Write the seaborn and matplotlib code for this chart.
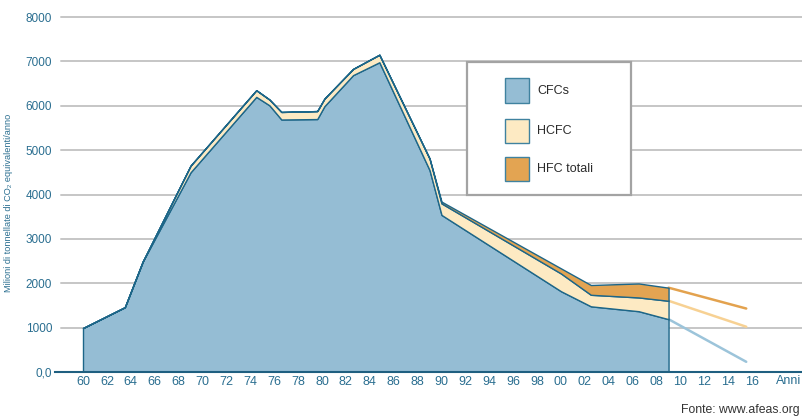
import matplotlib
matplotlib.use("Agg")
import matplotlib.pyplot as plt
from matplotlib import font_manager
from matplotlib.patches import Rectangle
import numpy as np
import pandas as pd
import seaborn as sns

# Emissioni storiche (milioni di t CO2 eq/anno), componenti impilate
years = [1960, 1963.5, 1965, 1969, 1974.5, 1975.6, 1976.6, 1979.6, 1980.2,
         1982.6, 1984.8, 1989, 1990, 2000, 2002.5, 2006.5, 2009]
cfc = [990, 1460, 2490, 4500, 6200, 6010, 5690, 5700, 5990,
       6690, 6980, 4550, 3540, 1820, 1480, 1370, 1190]
hcfc = [0, 0, 0, 150, 150, 130, 170, 180, 170,
        140, 170, 260, 260, 400, 260, 310, 415]
hfc = [0, 0, 0, 0, 0, 0, 0, 0, 0,
       0, 0, 0, 40, 115, 220, 315, 295]

# Proiezioni (linee)
proj_years = [2009, 2015.5]
proj_cfc = [1190, 230]
proj_hcfc = [415, 790]
proj_hfc = [295, 410]

series_names = ["CFCs", "HCFC", "HFC totali"]
x_ticks = list(range(1960, 2017, 2))
y_ticks = list(range(0, 9000, 1000))

BLUE = "#95BDD4"
CREAM = "#FDEAC3"
ORANGE = "#E3A452"
EDGE = "#1D6688"
TEAL = "#2A6E90"
PROJ_COLORS = {"CFCs": "#9CC4DA", "HCFC": "#F7D193", "HFC totali": "#E3A24E"}

sns.set_theme(style="white")
available = {f.name for f in font_manager.fontManager.ttflist}
base = "Liberation Sans Narrow" if "Liberation Sans Narrow" in available else "Liberation Sans"
narrow = base == "Liberation Sans Narrow"
plt.rcParams["font.family"] = [base, "DejaVu Sans"]

W, H = 802, 418
fig = plt.figure(figsize=(W / 100, H / 100), dpi=100)
ax = fig.add_axes([55 / W, 46 / H, 747 / W, 355 / H])

# stacked areas
cfc_top = np.array(cfc, dtype=float)
hcfc_top = cfc_top + np.array(hcfc)
hfc_top = hcfc_top + np.array(hfc)
ax.fill_between(years, 0, cfc_top, facecolor=BLUE, edgecolor=EDGE, lw=1, zorder=2)
ax.fill_between(years, cfc_top, hcfc_top, facecolor=CREAM, edgecolor=EDGE, lw=1, zorder=2)
ax.fill_between(years, hcfc_top, hfc_top, facecolor=ORANGE, edgecolor=EDGE, lw=1, zorder=2)

# projections
p_cfc = np.array(proj_cfc, dtype=float)
p_hcfc = p_cfc + np.array(proj_hcfc)
p_hfc = p_hcfc + np.array(proj_hfc)
proj_df = pd.DataFrame({
    "year": proj_years * 3,
    "value": np.concatenate([p_cfc, p_hcfc, p_hfc]),
    "series": [s for s in series_names for _ in proj_years],
})
sns.lineplot(data=proj_df, x="year", y="value", hue="series", palette=PROJ_COLORS,
             legend=False, lw=1.8, ax=ax, zorder=1.5)

# gridlines
for v in y_ticks[1:]:
    ax.axhline(v, xmin=6 / 747, color="#C6C6C6", lw=1.4, zorder=1, clip_on=False)

ax.set_xlim(1960 - 28 / 11.95, 1960 + 719 / 11.95)
ax.set_ylim(0, 8000)
ax.set_xticks(x_ticks)
ax.set_xticklabels([f"{y % 100:02d}" for y in x_ticks])
ax.set_yticks(y_ticks)
ax.set_yticklabels(["0,0"] + [str(v) for v in y_ticks[1:]])
ax.tick_params(axis="x", length=0, pad=3, labelsize=9.5 if narrow else 9, labelcolor=TEAL)
ax.tick_params(axis="y", length=0, pad=2, labelsize=9 if narrow else 8.5, labelcolor=TEAL)
ax.set_xlabel("")
ax.set_ylabel("Milioni di tonnellate di CO₂ equivalenti/anno",
              fontsize=8.5 if narrow else 6.6, color=TEAL)
ax.yaxis.set_label_coords(-42 / 747, 0.476)

for side in ["left", "right", "top"]:
    ax.spines[side].set_visible(False)
ax.spines["bottom"].set_color("#1F5F80")
ax.spines["bottom"].set_linewidth(1.5)
ax.spines["bottom"].set_zorder(3)

fig.text(801 / W, 1 - 381 / H, "Anni", ha="right", va="center", color=TEAL,
         fontsize=10 if narrow else 9)
fig.text(800 / W, 1 - 410 / H, "Fonte: www.afeas.org", ha="right", va="center",
         color="#333333", fontsize=9.5 if narrow else 8.8)

# legend box
def px_rect(x0, y0, x1, y1, **kw):
    return Rectangle((x0 / W, 1 - y1 / H), (x1 - x0) / W, (y1 - y0) / H,
                     transform=fig.transFigure, **kw)

fig.add_artist(px_rect(467, 62, 631, 195, facecolor="white", edgecolor="#A3A3A3", lw=1.6))
for (y0, y1), name, col in zip([(78, 103), (119, 143), (157, 181)], series_names,
                               [BLUE, CREAM, ORANGE]):
    fig.add_artist(px_rect(505, y0, 529, y1, facecolor=col, edgecolor="#3F829F", lw=1))
    fig.text(537 / W, 1 - ((y0 + y1) / 2) / H, name, ha="left", va="center",
             color="#2B2B2B", fontsize=10 if narrow else 9)

fig.savefig("out.png", dpi=100)
